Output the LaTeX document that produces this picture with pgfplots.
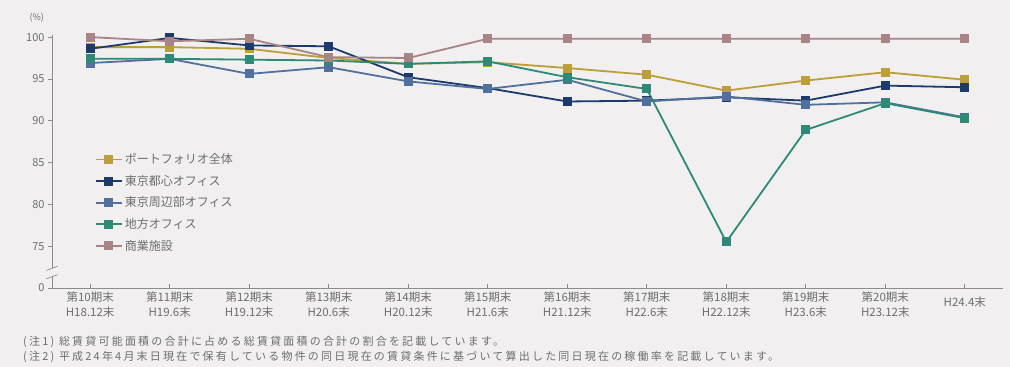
\documentclass[border=0pt]{standalone}
\usepackage{pgfplots}
\pgfplotsset{compat=1.18}
\usepackage{fontspec}
\setmainfont{Noto Sans CJK JP}
\newfontfamily\notefont[LetterSpace=20]{Noto Sans CJK JP}

\definecolor{bgcol}{HTML}{F1EFEF}
\definecolor{txtgray}{HTML}{6E6E6E}
\definecolor{axgray}{HTML}{8C8C8C}
\definecolor{cpf}{HTML}{BC9F38}
\definecolor{ctc}{HTML}{1C3A6C}
\definecolor{ctp}{HTML}{52709E}
\definecolor{creg}{HTML}{2E8A76}
\definecolor{ccom}{HTML}{A98484}

\begin{document}
\begin{tikzpicture}
\fill[bgcol] (0pt,0pt) rectangle (1010pt,367pt);

\begin{axis}[
  at={(52pt,79pt)}, anchor=south west,
  scale only axis, width=951pt, height=253pt,
  xmin=-0.48, xmax=11.48, ymin=70, ymax=100.25,
  clip=false,
  axis x line*=bottom, axis y line*=left,
  axis line style={axgray, line width=0.8pt},
  xtick={0,...,11},
  xticklabels={
    第10期末\\H18.12末, 第11期末\\H19.6末, 第12期末\\H19.12末,
    第13期末\\H20.6末, 第14期末\\H20.12末, 第15期末\\H21.6末,
    第16期末\\H21.12末, 第17期末\\H22.6末, 第18期末\\H22.12末,
    第19期末\\H23.6末, 第20期末\\H23.12末, \\H24.4末},
  xticklabel style={align=center, font=\fontsize{11.5}{15}\selectfont, text=txtgray},
  ytick={70,75,80,85,90,95,100},
  yticklabels={0,75,80,85,90,95,100},
  yticklabel style={font=\fontsize{11}{13}\selectfont, text=txtgray},
  /pgf/number format/assume math mode=true,
  xtick align=inside, ytick align=outside,
  major tick length=4pt,
  tick style={axgray, line width=0.7pt},
  every axis plot/.append style={line width=1.8pt, mark=square*, mark size=3.6pt},
  legend style={at={(0.045,0.54)}, anchor=north west, draw=none, fill=none,
    font=\fontsize{12}{13}\selectfont, text=txtgray,
    row sep=6pt, inner sep=0pt, cells={anchor=west}},
  legend image code/.code={\draw[mark repeat=2, mark phase=2]
    plot coordinates {(0pt,0pt)(13pt,0pt)(26pt,0pt)};},
]
% Portfolio total
\addplot[cpf, mark options={fill=cpf}] coordinates {
  (0,98.8) (1,98.8) (2,98.6) (3,97.5) (4,96.8) (5,97.0)
  (6,96.3) (7,95.5) (8,93.6) (9,94.8) (10,95.8) (11,94.9)};
\addlegendentry{ポートフォリオ全体}
% Central Tokyo offices
\addplot[ctc, mark options={fill=ctc}] coordinates {
  (0,98.6) (1,99.9) (2,99.0) (3,98.9) (4,95.2) (5,93.9)
  (6,92.3) (7,92.4) (8,92.8) (9,92.4) (10,94.2) (11,94.0)};
\addlegendentry{東京都心オフィス}
% Greater Tokyo offices
\addplot[ctp, mark options={fill=ctp}] coordinates {
  (0,96.9) (1,97.4) (2,95.6) (3,96.4) (4,94.7) (5,93.8)
  (6,94.9) (7,92.3) (8,92.9) (9,91.9) (10,92.2) (11,90.4)};
\addlegendentry{東京周辺部オフィス}
% Regional offices
\addplot[creg, mark options={fill=creg}] coordinates {
  (0,97.4) (1,97.4) (2,97.3) (3,97.2) (4,96.8) (5,97.1)
  (6,95.2) (7,93.8) (8,75.5) (9,88.9) (10,92.1) (11,90.3)};
\addlegendentry{地方オフィス}
% Retail properties
\addplot[ccom, mark options={fill=ccom}] coordinates {
  (0,100) (1,99.5) (2,99.8) (3,97.6) (4,97.5) (5,99.8)
  (6,99.8) (7,99.8) (8,99.8) (9,99.8) (10,99.8) (11,99.8)};
\addlegendentry{商業施設}

% axis break between 0 and 75
\fill[bgcol] (axis cs:-0.56,71.3) rectangle (axis cs:-0.40,72.4);
\draw[axgray, line width=0.7pt] (axis cs:-0.55,71.1) -- (axis cs:-0.41,71.6);
\draw[axgray, line width=0.7pt] (axis cs:-0.55,72.1) -- (axis cs:-0.41,72.6);
\end{axis}

\node[anchor=base west, text=txtgray, font=\fontsize{9}{10}\selectfont] at (26pt,346pt) {(\%)};
\node[anchor=base west, text=txtgray, font=\notefont\fontsize{11}{12}\selectfont, inner sep=0pt] at (23pt,21pt)
  {(注1) 総賃貸可能面積の合計に占める総賃貸面積の合計の割合を記載しています。};
\node[anchor=base west, text=txtgray, font=\notefont\fontsize{11}{12}\selectfont, inner sep=0pt] at (23pt,6pt)
  {(注2) 平成24年4月末日現在で保有している物件の同日現在の賃貸条件に基づいて算出した同日現在の稼働率を記載しています。};
\end{tikzpicture}
\end{document}
